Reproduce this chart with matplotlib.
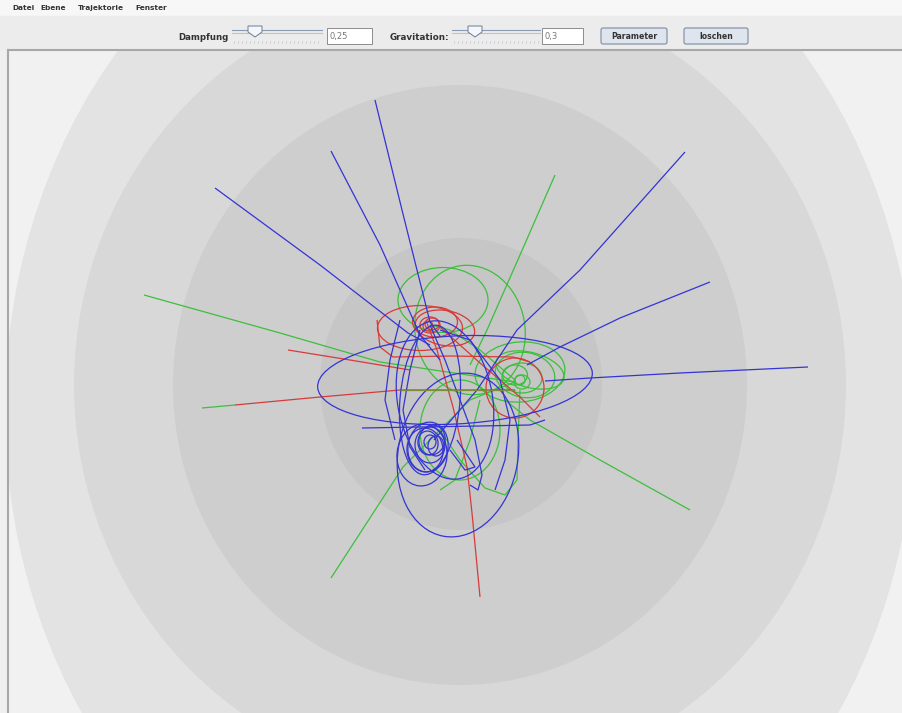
import matplotlib
matplotlib.use("Agg")
import matplotlib.pyplot as plt
from matplotlib.patches import Ellipse, Rectangle, FancyBboxPatch, Polygon

W, H = 903, 713

# ---- UI texts ----
MENU_ITEMS = ["Datei", "Ebene", "Trajektorie", "Fenster"]
MENU_X = [12, 40, 78, 135]
DAMP_LABEL, DAMP_VALUE = "Dampfung", "0,25"
GRAV_LABEL, GRAV_VALUE = "Gravitation:", "0,3"
BUTTONS = ["Parameter", "loschen"]

# ---- background potential rings (centre x, centre y, rx, ry, grey) ----
RING_CX = [460, 460, 460, 461]
RING_CY = [410, 385, 385, 384]
RING_RX = [455, 386, 287, 141]
RING_RY = [545, 398, 300, 146]
RING_COL = ["#e3e3e3", "#d8d8d8", "#cecece", "#c6c6c6"]
OUTER_COL = "#f1f1f1"

# ---- trajectories (pixel coordinates) ----
blue_paths = [
    [(375, 100), (402, 210), (430, 322), (440, 336)],
    [(331, 151), (380, 245), (420, 335), (440, 360)],
    [(215, 188), (320, 265), (408, 333), (430, 345)],
    [(685, 152), (580, 270), (517, 330), (477, 390), (434, 440)],
    [(710, 282), (620, 318), (560, 347), (527, 365)],
    [(808, 367), (680, 373), (590, 378), (545, 381)],
    [(362, 428), (420, 427), (480, 426), (530, 425), (545, 420)],
    [(430, 325), (445, 360), (460, 400), (475, 440), (482, 475), (478, 490), (470, 485)],
    [(420, 330), (410, 370), (403, 410), (410, 447), (425, 470)],
    [(440, 330), (470, 340), (500, 380), (510, 420), (505, 460), (495, 490)],
    [(400, 320), (390, 360), (385, 400), (395, 440)],
    [(457, 440), (475, 467), (465, 470), (450, 450)],
]
blue_loop_cx = [455, 428, 430, 428, 430, 422, 458, 430, 445, 432, 425, 436]
blue_loop_cy = [380, 447, 445, 443, 442, 455, 455, 400, 400, 440, 450, 446]
blue_loop_w = [275, 40, 30, 20, 12, 50, 120, 60, 95, 26, 36, 16]
blue_loop_h = [88, 50, 36, 24, 14, 62, 165, 150, 160, 30, 44, 20]
blue_loop_a = [-3, 10, 0, -10, 0, 5, 10, 5, -10, 15, -5, 0]

green_paths = [
    [(144, 295), (280, 333), (380, 362), (515, 382)],
    [(555, 175), (520, 255), (487, 330), (470, 365)],
    [(690, 510), (600, 460), (530, 420), (505, 400)],
    [(331, 578), (403, 467), (470, 400), (515, 382)],
    [(202, 408), (235, 405)],
    [(515, 380), (480, 350), (450, 330), (430, 325)],
    [(520, 390), (518, 440), (517, 480), (505, 495), (485, 488), (460, 460), (440, 430)],
    [(480, 400), (470, 440), (455, 480), (440, 490)],
]
green_loop_cx = [443, 522, 525, 520, 515, 530, 460, 470, 520, 522]
green_loop_cy = [300, 378, 375, 372, 375, 370, 430, 330, 380, 382]
green_loop_w = [90, 40, 60, 90, 25, 70, 80, 110, 10, 16]
green_loop_h = [65, 30, 45, 60, 20, 35, 100, 130, 10, 14]
green_loop_a = [0, 0, 10, -5, 0, 15, 0, -10, 0, 0]

red_paths = [
    [(288, 350), (350, 360), (410, 370)],
    [(393, 357), (450, 356), (513, 357), (530, 362)],
    [(235, 405), (320, 397), (400, 390), (515, 390)],
    [(427, 323), (437, 350), (453, 407), (467, 467), (472, 513), (480, 597)],
    [(440, 327), (480, 363), (520, 397), (540, 417)],
    [(377, 320), (380, 347), (393, 357)],
]
red_loop_cx = [420, 435, 430, 445, 515, 428, 432]
red_loop_cy = [328, 322, 325, 328, 388, 326, 324]
red_loop_w = [85, 45, 20, 60, 58, 10, 14]
red_loop_h = [45, 30, 16, 35, 60, 10, 12]
red_loop_a = [0, 0, 0, 10, 0, 0, 0]

olive_path = [(400, 390), (515, 390)]

BLUE, GREEN, RED, OLIVE = "#3434d4", "#3cbf3c", "#d83a3a", "#7f8a3c"
LW = 0.9

fig = plt.figure(figsize=(W / 100, H / 100), dpi=100)
ax = fig.add_axes([0, 0, 1, 1])
ax.set_xlim(0, W)
ax.set_ylim(H, 0)
ax.axis("off")

# window chrome
ax.add_patch(Rectangle((0, 0), W, 16, color="#f7f7f7", zorder=0))
ax.add_patch(Rectangle((0, 16), W, 34, color="#ececec", zorder=0))
ax.add_patch(Rectangle((0, 50), 8, H - 50, color="#efefef", zorder=0))
for item, mx in zip(MENU_ITEMS, MENU_X):
    ax.text(mx, 8, item, fontsize=5.3, fontweight="bold", color="#333333",
            va="center", ha="left")


def slider(x0, x1, thumb):
    ax.plot([x0, x1], [30, 30], color="#8a9ab0", lw=0.8)
    ax.plot([x0, x1], [33, 33], color="#b8c4d4", lw=0.8)
    ax.add_patch(Polygon([(thumb - 7, 26), (thumb + 7, 26), (thumb + 7, 32),
                          (thumb, 37), (thumb - 7, 32)], closed=True,
                         fc="#f4f6fa", ec="#6c7c94", lw=0.7, zorder=3))
    for k in range(int(x0) + 2, int(x1), 4):
        ax.plot([k, k], [41, 43], color="#c4c8d0", lw=0.5)


def field(x0, x1, txt):
    ax.add_patch(Rectangle((x0, 28), x1 - x0, 16, fc="white", ec="#8c8c8c", lw=0.7))
    ax.text(x0 + 3, 36, txt, fontsize=6, color="#777777", va="center")


ax.text(229, 37, DAMP_LABEL, fontsize=6.2, fontweight="bold", color="#333333",
        ha="right", va="center")
slider(232, 322, 255)
field(327, 372, DAMP_VALUE)
ax.text(449, 37, GRAV_LABEL, fontsize=6.3, fontweight="bold", color="#333333",
        ha="right", va="center")
slider(452, 540, 475)
field(542, 583, GRAV_VALUE)
for (bx0, bx1), label in zip([(601, 667), (684, 748)], BUTTONS):
    ax.add_patch(FancyBboxPatch((bx0, 28), bx1 - bx0, 16,
                                boxstyle="round,pad=0,rounding_size=2",
                                fc="#dfe5ee", ec="#7d8ba0", lw=0.8))
    ax.text((bx0 + bx1) / 2, 36.5, label, fontsize=5.6, fontweight="bold",
            color="#333333", ha="center", va="center")

# canvas with rings
ax.add_patch(Rectangle((8, 50), W - 8, H - 50, color=OUTER_COL, zorder=1))
clip = Rectangle((9, 51), W - 9, H - 51, transform=ax.transData)
for cx, cy, rx, ry, col in zip(RING_CX, RING_CY, RING_RX, RING_RY, RING_COL):
    e = Ellipse((cx, cy), 2 * rx, 2 * ry, color=col, zorder=2, lw=0)
    ax.add_patch(e)
    e.set_clip_path(clip)
ax.plot([8, W], [50, 50], color="#a8a8a8", lw=1.5, zorder=6)
ax.plot([8, 8], [50, H], color="#a8a8a8", lw=1.5, zorder=6)


def draw_paths(paths, col):
    for p in paths:
        xs, ys = zip(*p)
        ax.plot(xs, ys, color=col, lw=LW, zorder=4, solid_capstyle="butt")


def draw_loops(cxs, cys, ws, hs, angs, col):
    for cx, cy, w, h, a in zip(cxs, cys, ws, hs, angs):
        ax.add_patch(Ellipse((cx, cy), w, h, angle=a, fill=False, ec=col,
                             lw=LW, zorder=4))


draw_loops(green_loop_cx, green_loop_cy, green_loop_w, green_loop_h, green_loop_a, GREEN)
draw_paths(green_paths, GREEN)
draw_loops(red_loop_cx, red_loop_cy, red_loop_w, red_loop_h, red_loop_a, RED)
draw_paths(red_paths, RED)
draw_loops(blue_loop_cx, blue_loop_cy, blue_loop_w, blue_loop_h, blue_loop_a, BLUE)
draw_paths(blue_paths, BLUE)
draw_paths([olive_path], OLIVE)

fig.savefig("out.png", dpi=100)
